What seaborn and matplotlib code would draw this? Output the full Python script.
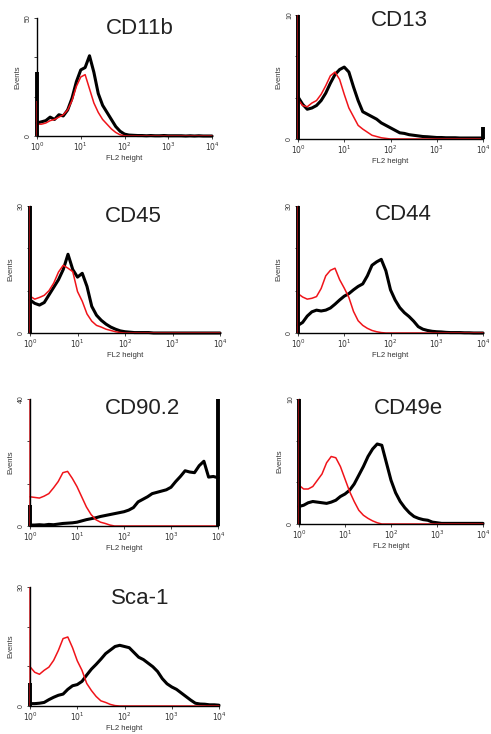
import numpy as np
import pandas as pd
import seaborn as sns
import matplotlib.pyplot as plt

sns.set_style("ticks")
plt.rcParams['font.family'] = ['Liberation Sans', 'DejaVu Sans']

# channel positions as log10 of FL2 height (0.1 decade bins)
channel_exp = [0.0, 0.1, 0.2, 0.3, 0.4, 0.5, 0.6, 0.7, 0.8, 0.9,
               1.0, 1.1, 1.2, 1.3, 1.4, 1.5, 1.6, 1.7, 1.8, 1.9,
               2.0, 2.1, 2.2, 2.3, 2.4, 2.5, 2.6, 2.7, 2.8, 2.9,
               3.0, 3.1, 3.2, 3.3, 3.4, 3.5, 3.6, 3.7, 3.8, 3.9, 4.0]

markers = ['CD11b', 'CD13', 'CD45', 'CD44', 'CD90.2', 'CD49e', 'Sca-1']
y_max = [50, 10, 30, 30, 40, 10, 30]
x_tick_labels = ['$10^{0}$', '$10^{1}$', '$10^{2}$', '$10^{3}$', '$10^{4}$']

# piled-up events in the first / last channel (off-scale spikes)
low_edge_black = [27, 10, 30, 30, 6.6, 10, 5.8]
low_edge_red = [15, 10, 30, 30, 40, 10, 30]
high_edge_black = [0, 1.0, 0, 0, 40, 0, 0]

# stained sample (black) and isotype control (red), events per bin
cd11b_black = [5.5, 6, 6.5, 8, 7, 9, 8.5, 11, 16, 23, 28, 29, 34, 27, 18, 13, 10, 7, 4, 2,
               0.8, 0.4, 0.3, 0.2, 0.2, 0.1, 0.2, 0.1, 0.1, 0.2, 0.1, 0.1, 0.1, 0.1, 0, 0.1,
               0, 0.1, 0, 0, 0]
cd11b_red = [5, 5, 5.5, 6.5, 7, 8, 9, 11, 15, 21, 25, 26, 20, 14, 10, 7, 5, 3, 1.5, 0.5,
             0.1, 0, 0, 0, 0, 0, 0, 0, 0, 0, 0, 0, 0, 0, 0, 0, 0, 0, 0, 0, 0]

cd13_black = [3.4, 2.8, 2.4, 2.5, 2.7, 3.1, 3.7, 4.5, 5.2, 5.6, 5.8, 5.4, 4.2, 3.1, 2.2, 2.0,
              1.8, 1.6, 1.3, 1.1, 0.9, 0.7, 0.5, 0.45, 0.35, 0.3, 0.25, 0.2, 0.18, 0.15,
              0.12, 0.12, 0.1, 0.1, 0.1, 0.08, 0.08, 0.08, 0.08, 0.08, 0.08]
cd13_red = [3.2, 2.7, 2.6, 2.9, 3.1, 3.6, 4.3, 5.1, 5.4, 4.8, 3.6, 2.5, 1.8, 1.1, 0.8, 0.55,
            0.3, 0.2, 0.1, 0.05, 0, 0, 0, 0, 0, 0, 0, 0, 0, 0, 0, 0, 0, 0, 0, 0, 0, 0, 0, 0, 0]

cd45_black = [7.8, 7.0, 6.6, 7.2, 9.0, 10.8, 12.6, 15.0, 18.6, 15.0, 13.2, 14.1, 11.0, 6.3,
              4.2, 3.0, 2.1, 1.4, 0.9, 0.5, 0.3, 0.2, 0.1, 0.1, 0.1, 0.1, 0, 0, 0, 0, 0,
              0, 0, 0, 0, 0, 0, 0, 0, 0, 0]
cd45_red = [8.7, 8.0, 8.4, 8.9, 10.0, 11.8, 14.4, 16.0, 15.3, 14.5, 9.8, 7.5, 4.5, 2.8, 1.8,
            1.4, 0.9, 0.6, 0.3, 0.1, 0, 0, 0, 0, 0, 0, 0, 0, 0, 0, 0, 0, 0, 0, 0, 0, 0, 0,
            0, 0, 0]

cd44_black = [1.8, 2.5, 4.0, 5.0, 5.4, 5.2, 5.4, 5.9, 6.8, 7.8, 8.7, 9.3, 10.2, 11.0, 11.6,
              13.5, 16.0, 16.8, 17.4, 14.7, 10.2, 7.8, 6.0, 4.8, 3.9, 2.8, 1.5, 0.9, 0.6,
              0.4, 0.3, 0.25, 0.15, 0.1, 0.1, 0.1, 0.05, 0.05, 0, 0, 0]
cd44_red = [9.3, 8.5, 8.0, 8.2, 8.6, 10.5, 13.5, 14.8, 15.3, 12.6, 10.6, 8.4, 5.1, 2.9, 1.8,
            1.1, 0.6, 0.3, 0.1, 0, 0, 0, 0, 0, 0, 0, 0, 0, 0, 0, 0, 0, 0, 0, 0, 0, 0, 0, 0,
            0, 0]

cd90_black = [0.3, 0.3, 0.4, 0.3, 0.5, 0.4, 0.6, 0.8, 0.9, 1.0, 1.2, 1.6, 2.0, 2.3, 2.6,
              3.0, 3.3, 3.6, 3.9, 4.2, 4.5, 5.0, 5.8, 7.6, 8.4, 9.2, 10.2, 10.6, 11.0, 11.4,
              12.2, 14.0, 15.6, 17.4, 17.0, 16.8, 19.0, 20.4, 15.4, 15.6, 15.2]
cd90_red = [9.2, 9.0, 8.8, 9.4, 10.2, 12.0, 14.0, 16.8, 17.2, 15.0, 12.4, 9.2, 6.0, 3.6, 2.0,
            1.2, 0.8, 0.3, 0, 0, 0, 0, 0, 0, 0, 0, 0, 0, 0, 0, 0, 0, 0, 0, 0, 0, 0, 0, 0,
            0, 0]

cd49e_black = [1.4, 1.5, 1.7, 1.8, 1.75, 1.7, 1.65, 1.75, 1.9, 2.2, 2.4, 2.7, 3.2, 3.9, 4.6,
               5.4, 6.0, 6.4, 6.3, 4.9, 3.5, 2.5, 1.8, 1.3, 0.9, 0.6, 0.45, 0.35, 0.3, 0.15,
               0.1, 0.05, 0.05, 0.05, 0.05, 0.05, 0.05, 0.05, 0.05, 0.05, 0.05]
cd49e_red = [3.1, 2.8, 2.8, 3.0, 3.5, 4.0, 4.9, 5.4, 5.3, 4.6, 3.6, 2.6, 1.8, 1.1, 0.7, 0.45,
             0.25, 0.1, 0, 0, 0, 0, 0, 0, 0, 0, 0, 0, 0, 0, 0, 0, 0, 0, 0, 0, 0, 0, 0, 0, 0]

sca1_black = [0.6, 0.6, 0.7, 0.9, 1.6, 2.2, 2.7, 3.0, 4.2, 5.1, 5.4, 6.2, 7.8, 9.3, 10.5,
              11.8, 13.2, 14.1, 15.0, 15.3, 15.0, 14.7, 13.5, 12.3, 11.7, 10.8, 9.9, 8.7,
              6.9, 5.6, 4.8, 4.2, 3.3, 2.4, 1.5, 0.7, 0.5, 0.45, 0.3, 0.3, 0.2]
sca1_red = [9.9, 8.5, 8.0, 9.0, 9.8, 11.5, 14.0, 17.0, 17.4, 14.7, 11.4, 9.0, 5.7, 3.9, 2.4,
            1.3, 0.9, 0.4, 0.1, 0, 0, 0, 0, 0, 0, 0, 0, 0, 0, 0, 0, 0, 0, 0, 0, 0, 0, 0, 0,
            0, 0]

black_series = [cd11b_black, cd13_black, cd45_black, cd44_black, cd90_black, cd49e_black, sca1_black]
red_series = [cd11b_red, cd13_red, cd45_red, cd44_red, cd90_red, cd49e_red, sca1_red]

W, H = 491, 734
# axes boxes in pixels: left, top, right, bottom
boxes = [(37, 18, 212, 136), (298, 15, 483, 139),
         (30, 206, 220, 333), (298, 206, 483, 333),
         (30, 399, 218, 526), (299, 399, 483, 524),
         (30, 587, 219, 706)]
title_pos = [(140, 28), (399, 21), (133, 216), (403, 215), (143, 408), (408, 408), (140, 598)]

RED = '#f0141a'

fig = plt.figure(figsize=(W / 100, H / 100), dpi=100)

for i, name in enumerate(markers):
    l, t, r, b = boxes[i]
    ax = fig.add_axes([l / W, 1 - b / H, (r - l) / W, (b - t) / H])
    df = pd.DataFrame({'fl2': np.power(10.0, channel_exp),
                       'stained': black_series[i], 'control': red_series[i]})
    sns.lineplot(data=df, x='fl2', y='stained', color='black', lw=2.2,
                 estimator=None, ax=ax, clip_on=False)
    sns.lineplot(data=df, x='fl2', y='control', color=RED, lw=1.1,
                 estimator=None, ax=ax, clip_on=False)
    # edge channels
    ax.vlines(1, 0, low_edge_black[i], colors='black', lw=2.8, clip_on=False)
    ax.vlines(1, 0, low_edge_red[i], colors=RED, lw=1.4, alpha=0.75, clip_on=False)
    if high_edge_black[i] > 0:
        ax.vlines(1e4, 0, high_edge_black[i], colors='black', lw=2.8, clip_on=False)
    ax.set_xscale('log')
    ax.set_xlim(1, 1e4)
    ax.set_ylim(0, y_max[i])
    sns.despine(ax=ax)
    for s in ['left', 'bottom']:
        ax.spines[s].set_linewidth(1.0)
        ax.spines[s].set_color('black')
    ax.set_xticks([1, 10, 100, 1000, 10000])
    ax.set_xticklabels(x_tick_labels, fontsize=5.5, color='#333333')
    ax.minorticks_off()
    ax.set_yticks([0, y_max[i] / 3, 2 * y_max[i] / 3, y_max[i]])
    ax.set_yticklabels(['0', '', '', str(y_max[i])], rotation=90, va='center',
                       fontsize=5, color='#333333')
    ax.tick_params(length=2, width=0.6, pad=1.5)
    ax.set_ylabel('Events', fontsize=5.5, color='#333333', labelpad=3)
    ax.set_xlabel('FL2 height', fontsize=5.5, color='#333333', labelpad=1.5)
    tx, ty = title_pos[i]
    fig.text(tx / W, 1 - ty / H, name, fontsize=16, ha='center', va='center', color='#222222')

fig.savefig('out.png', dpi=100)
